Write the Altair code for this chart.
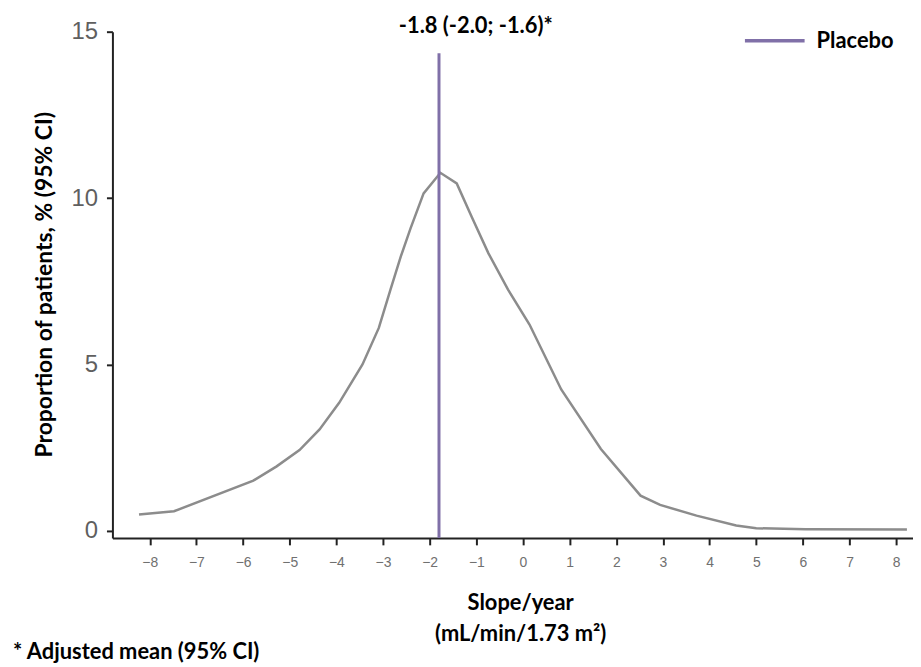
import altair as alt
import pandas as pd

# Curve (Placebo distribution of slopes)
curve_x = [-8.23, -7.48, -5.78, -5.28, -4.79, -4.36, -3.94, -3.44, -3.09, -2.84,
           -2.62, -2.41, -2.13, -1.77, -1.42, -1.10, -0.74, -0.32, 0.14, 0.82,
           1.67, 2.52, 2.94, 3.72, 4.57, 5.0, 6.06, 8.23]
curve_y = [0.49, 0.59, 1.51, 1.94, 2.43, 3.05, 3.85, 5.0, 6.1, 7.25,
           8.24, 9.09, 10.14, 10.76, 10.44, 9.44, 8.34, 7.25, 6.2, 4.25,
           2.46, 1.06, 0.78, 0.46, 0.16, 0.08, 0.05, 0.04]

# Adjusted mean line
series_name = ["Placebo"]
mean_value = [-1.8]
mean_label = ["-1.8 (-2.0; -1.6)*"]
line_bottom = [-0.21]
line_top = [14.35]

x_ticks = list(range(-8, 9))
y_ticks = [0, 5, 10, 15]
x_domain = [-8.8, 8.36]
y_domain = [-0.21, 15]

curve_df = pd.DataFrame({"x": curve_x, "y": curve_y})
mean_df = pd.DataFrame({"x": mean_value, "y": line_bottom, "y2": line_top,
                        "series": series_name, "label": mean_label,
                        "ytext": [y_domain[1]]})

FONT = "Lato"
PURPLE = "#8070a8"

xscale = alt.Scale(domain=x_domain, nice=False, zero=False)
yscale = alt.Scale(domain=y_domain, nice=False, zero=False)

xaxis = alt.Axis(values=x_ticks, title=["Slope/year", "(mL/min/1.73 m²)"],
                 grid=False, labelFont="Liberation Sans", labelFontSize=14,
                 labelColor="#707070", labelPadding=11, tickSize=7,
                 tickWidth=2, tickColor="#222222", domainColor="#222222",
                 domainWidth=2, titleFont=FONT, titleFontSize=22,
                 titleFontWeight="bold", titleColor="#000000",
                 titleX=410, titleY=55, titleBaseline="top",
                 titleLineHeight=31, titleAlign="center")
yaxis = alt.Axis(values=y_ticks, title="Proportion of patients, % (95% CI)",
                 grid=False, labelFont="Liberation Sans", labelFontSize=24,
                 labelColor="#5f5f5f", labelPadding=9, tickSize=6,
                 tickWidth=2, tickColor="#222222", domainColor="#222222",
                 domainWidth=2, titleFont=FONT, titleFontSize=23,
                 titleFontWeight="bold", titleColor="#000000",
                 titleX=-68, titleY=254, titleAngle=270,
                 titleBaseline="middle", titleAlign="center")

curve = alt.Chart(curve_df).mark_line(color="#8c8c8c", strokeWidth=2.5).encode(
    x=alt.X("x:Q", scale=xscale, axis=xaxis),
    y=alt.Y("y:Q", scale=yscale, axis=yaxis),
)

rule = alt.Chart(mean_df).mark_rule(strokeWidth=3).encode(
    x=alt.X("x:Q", scale=xscale),
    y=alt.Y("y:Q", scale=yscale),
    y2="y2:Q",
    color=alt.Color("series:N", scale=alt.Scale(range=[PURPLE]),
                    legend=alt.Legend(title=None, orient="none", legendX=634,
                                      legendY=-23, symbolType="stroke",
                                      symbolSize=3600, symbolStrokeWidth=3.5,
                                      labelFont=FONT, labelFontSize=22,
                                      labelFontWeight="bold", labelColor="#000000",
                                      labelOffset=10, padding=0)),
)

label = alt.Chart(mean_df).mark_text(font=FONT, fontSize=22, fontWeight="bold",
                                     color="#000000", dx=37, dy=-6,
                                     baseline="middle", align="center").encode(
    x=alt.X("x:Q", scale=xscale),
    y=alt.Y("ytext:Q", scale=yscale),
    text="label:N",
)

chart = alt.layer(curve, rule, label).properties(
    width=805, height=509,
    padding={"left": 105, "top": 22, "right": 0, "bottom": 128},
    autosize=alt.AutoSizeParams(type="none"),
    title=alt.TitleParams("* Adjusted mean (95% CI)", orient="bottom",
                          anchor="start", frame="group", font=FONT, fontSize=22,
                          fontWeight="bold", color="#000000", dx=-100, offset=-2),
    background="white",
).configure_view(stroke=None)

chart.save("out.html", embed_options={"renderer": "svg", "actions": False})
